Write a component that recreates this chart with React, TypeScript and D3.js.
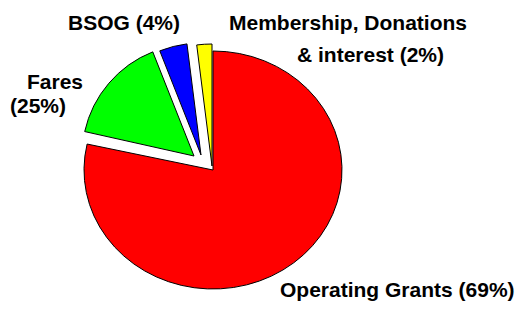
import React from 'react'
import * as d3 from 'd3'

// slice sizes as drawn (the printed labels say otherwise)
const categories = ['Operating Grants', 'Fares', 'BSOG', 'Membership, Donations & interest']
const values = [78.5, 15.5, 4, 2]
const colors = ['#ff0000', '#00ff00', '#0000ff', '#ffff00']
const labelLines = [
  ['Operating Grants (69%)'],
  ['Fares', '(25%)'],
  ['BSOG (4%)'],
  ['Membership, Donations', '& interest (2%)'],
]

const W = 519
const H = 309
const cx = 213
const cy = 170

// explode offsets and radii for each slice
const explode = [[0, 0], [-19, -14], [-12, -15], [-1, -4]]
const radii = [[129, 119], [112, 112], [112, 112], [122, 122]]
const labelPos = [
  [[280, 297]],
  [[27, 89], [10, 113]],
  [[68, 30]],
  [[229, 30], [297, 62]],
]

export default function App() {
  const pie = d3.pie<number>().sort(null).value(d => d)
  const arcs = pie(values)

  return (
    <svg width={W} height={H} style={{ position: 'absolute', left: 0, top: 0 }}>
      <rect width={W} height={H} fill="#fff" />
      {arcs.map((a, i) => {
        const [rx, ry] = radii[i]
        const path = d3.arc<any>().innerRadius(0).outerRadius(ry)(a)
        return (
          <g key={categories[i]} transform={`translate(${cx + explode[i][0]},${cy + explode[i][1]}) scale(${rx / ry},1)`}>
            <path d={path || ''} fill={colors[i]} stroke="#000" strokeWidth={1} vectorEffect="non-scaling-stroke" />
          </g>
        )
      })}
      {labelLines.map((lines, i) =>
        lines.map((t, j) => (
          <text
            key={i + '-' + j}
            x={labelPos[i][j][0]}
            y={labelPos[i][j][1]}
            fontFamily="Liberation Sans, Arial, sans-serif"
            fontWeight="bold"
            fontSize={21}
            fill="#000"
          >
            {t}
          </text>
        ))
      )}
    </svg>
  )
}
